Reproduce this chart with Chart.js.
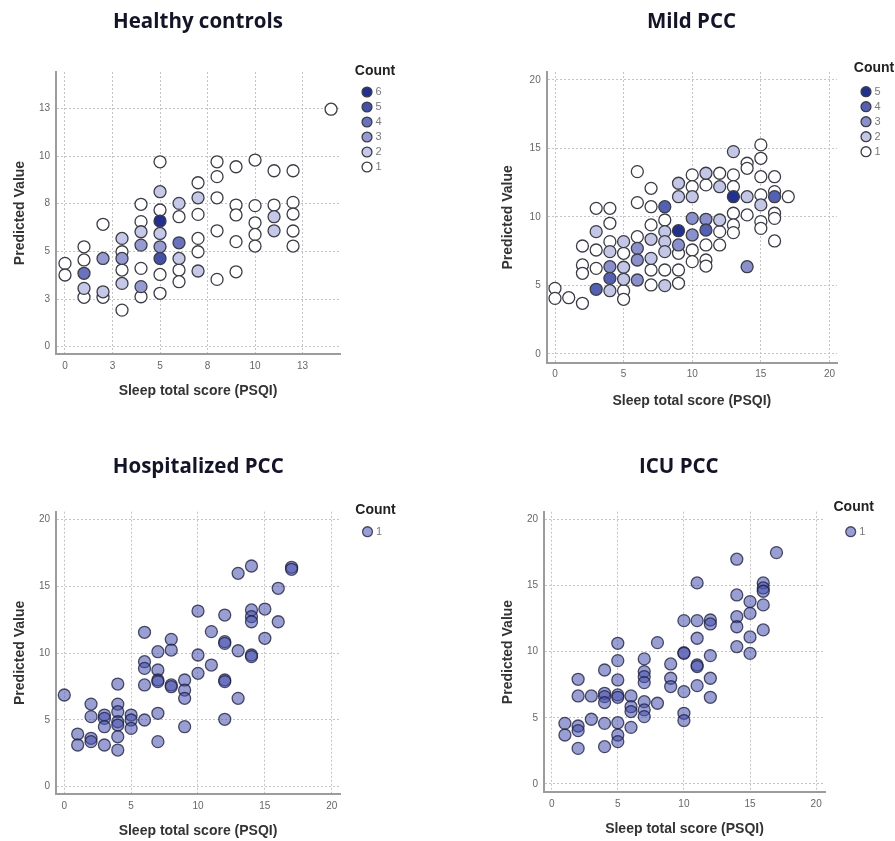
<!DOCTYPE html>
<html><head><meta charset="utf-8">
<script src="https://cdn.jsdelivr.net/npm/chart.js@4.4.1/dist/chart.umd.min.js"></script>
<style>
html,body{margin:0;padding:0;background:#fff;width:895px;height:841px;overflow:hidden;}
canvas{position:absolute;}
</style></head><body>
<canvas id="c1" width="399" height="400" style="left:0px;top:0px"></canvas>
<canvas id="c2" width="435" height="410" style="left:460px;top:0px"></canvas>
<canvas id="c3" width="400" height="400" style="left:0px;top:440px"></canvas>
<canvas id="c4" width="435" height="398" style="left:460px;top:440px"></canvas>
<script>
// ---------- DATA ----------
const panelTitles = ['Healthy controls', 'Mild PCC', 'Hospitalized PCC', 'ICU PCC'];
const xAxisTitle = 'Sleep total score (PSQI)';
const yAxisTitle = 'Predicted Value';
const legendTitle = 'Count';

const ticksHC = [0, 2.5, 5, 7.5, 10, 12.5];
const ticksPCC = [0, 5, 10, 15, 20];

// Healthy controls
const hcScore = [0,0, 1,1,1,1,1, 2,2,2,2, 3,3,3,3,3,3, 4,4,4,4,4,4,4, 5,5,5,5,5,5,5,5,5, 6,6,6,6,6,6, 7,7,7,7,7,7, 8,8,8,8,8, 9,9,9,9,9, 10,10,10,10,10, 11,11,11,11, 12,12,12,12,12, 14];
const hcPred = [4.37,3.76, 5.24,4.55,3.85,3.06,2.59, 6.42,4.63,2.88,2.59, 5.68,4.98,4.63,4.02,3.32,1.92, 7.47,6.56,6.03,5.33,4.11,3.15,2.62, 9.70,8.13,7.17,6.59,5.94,5.24,4.63,3.79,2.80, 7.52,6.82,5.45,4.63,4.02,3.41, 8.60,7.81,6.94,5.68,4.98,3.97, 9.70,8.92,7.81,6.08,3.53, 9.44,7.43,6.91,5.51,3.93, 9.79,7.40,6.50,5.89,5.28, 9.23,7.43,6.82,6.08, 9.23,7.57,6.96,6.07,5.28, 12.46];
const hcCount = [1,1, 1,1,4,2,1, 1,3,2,1, 2,1,3,1,2,1, 1,1,2,3,1,3,1, 1,2,1,6,2,3,5,1,1, 2,1,4,2,1,1, 1,2,1,1,1,2, 1,1,1,1,1, 1,1,1,1,1, 1,1,1,1,1, 1,1,2,2, 1,1,1,1,1, 1];
const hcLevels = [6, 5, 4, 3, 2, 1];

// Mild PCC
const mildScore = [0,0, 1, 2,2,2,2, 3,3,3,3,3, 4,4,4,4,4,4,4, 5,5,5,5,5,5, 6,6,6,6,6,6, 7,7,7,7,7,7,7, 8,8,8,8,8,8,8, 9,9,9,9,9,9,9, 10,10,10,10,10,10,10, 11,11,11,11,11,11,11, 12,12,12,12,12, 13,13,13,13,13,13,13, 14,14,14,14,14, 15,15,15,15,15,15,15, 16,16,16,16,16,16, 17];
const mildPred = [4.79,4.06, 4.11, 7.88,6.50,5.89,3.70, 10.63,8.93,7.59,6.25,4.72, 10.63,9.54,8.20,7.47,6.37,5.52,4.62, 8.20,7.35,6.33,5.45,4.62,3.99, 13.31,11.05,8.56,7.71,6.86,5.40, 12.09,10.75,9.42,8.37,6.98,6.13,5.04, 10.75,9.78,8.93,8.20,7.47,6.13,4.99, 12.46,11.48,9.00,7.96,7.35,6.13,5.16, 13.07,12.21,11.48,9.90,8.69,7.59,6.74, 13.19,12.34,9.83,9.05,7.96,6.86,6.42, 13.19,12.21,9.78,8.93,7.96, 14.77,13.07,12.21,11.48,10.27,9.42,8.86, 13.92,13.55,11.48,10.15,6.37, 15.26,14.28,12.94,11.61,10.88,9.66,9.17, 12.94,11.85,11.48,10.27,9.90,8.25, 11.48];
const mildCount = [1,1, 1, 1,1,1,1, 1,2,1,1,4, 1,1,1,2,3,4,2, 2,1,2,2,1,1, 1,1,1,3,3,3, 1,1,1,2,2,1,1, 4,1,2,2,2,1,2, 2,2,5,3,1,1,1, 1,1,2,3,3,1,1, 2,1,3,4,1,1,1, 1,2,2,1,1, 2,1,1,5,1,1,1, 1,1,2,1,3, 1,1,1,1,2,1,1, 1,1,4,1,1,1, 1];
const mildLevels = [5, 4, 3, 2, 1];

// Hospitalized PCC
const hospScore = [0, 1,1, 2,2,2,2, 3,3,3,3, 4,4,4,4,4,4,4, 5,5,5, 6,6,6,6,6, 7,7,7,7,7,7, 8,8,8,8, 9,9,9,9, 10,10,10, 11,11, 12,12,12,12,12,12, 13,13,13, 14,14,14,14,14,14, 15,15, 16,16, 17,17];
const hospPred = [6.86, 3.94,3.12, 6.18,5.24,3.62,3.37, 5.36,5.11,4.49,3.12, 7.68,6.18,5.61,4.86,4.61,3.74,2.74, 5.36,4.99,4.36, 11.55,9.35,8.85,7.61,4.99, 10.10,8.73,7.98,7.86,5.49,3.37, 11.02,10.22,7.61,7.48, 7.98,7.23,6.61,4.49, 13.14,9.85,8.48, 11.60,9.10, 12.84,10.85,10.72,7.98,7.86,5.04, 15.96,10.17,6.61, 16.51,13.22,12.72,12.34,9.85,9.73, 13.29,11.10, 14.84,12.34, 16.41,16.26];

// ICU PCC
const icuScore = [1,1, 2,2,2,2,2, 3,3, 4,4,4,4,4,4, 5,5,5,5,5,5,5,5, 6,6,6,6, 7,7,7,7,7,7,7, 8,8, 9,9,9, 10,10,10,10,10,10, 11,11,11,11,11,11, 12,12,12,12,12, 14,14,14,14,14, 15,15,15,15, 16,16,16,16,16, 17];
const icuPred = [4.58,3.70, 7.91,6.65,4.38,4.03,2.69, 6.65,4.89, 8.61,6.85,6.60,6.15,4.58,2.82, 10.63,9.32,7.86,6.73,6.55,4.63,3.70,3.20, 6.65,5.84,5.47,4.28, 9.45,8.49,8.11,7.66,6.22,5.60,5.09, 10.68,6.10, 9.07,7.99,7.36, 12.34,9.92,9.87,6.98,5.34,4.79, 15.19,12.34,11.01,8.99,8.87,7.43, 12.39,12.09,9.70,7.99,6.55, 16.98,14.28,12.64,11.88,10.37, 13.78,12.89,11.11,9.87, 15.19,14.81,14.56,13.53,11.64, 17.48];

// ---------- STYLE ----------
const hcColors = {6:'#22308e', 5:'#4451a8', 4:'#6b72bd', 3:'#959ad0', 2:'#c6c8e7', 1:'#ffffff'};
const mildColors = {5:'#22308e', 4:'#5460b2', 3:'#8a90cb', 2:'#c3c6e5', 1:'#ffffff'};
const singleFill = 'rgba(70,80,175,0.55)';
const singleBorder = 'rgba(25,25,55,0.75)';

Chart.defaults.font.family = '"Liberation Sans", Arial, sans-serif';

// let the legend title overflow its box (no clipping to the legend box)
const noClipLegend = {
  id: 'noClipLegend',
  beforeDraw(chart) {
    const lg = chart.legend;
    if (lg && !lg._noclip && typeof lg._draw === 'function') {
      lg._noclip = true;
      lg.draw = function() { if (this.options.display) { this._draw(); } };
    }
  }
};

function groupedSets(xs, ys, cs, levels, colors) {
  return levels.map(l => {
    const pts = [];
    xs.forEach((x, i) => { if (cs[i] === l) pts.push({x: x, y: ys[i]}); });
    return {
      label: String(l), data: pts, yAxisID: 'y', xAxisID: 'x',
      backgroundColor: colors[l], borderColor: '#3c3c46', borderWidth: 1.3,
      pointRadius: 6, pointHoverRadius: 6
    };
  });
}
function singleSet(xs, ys) {
  return [{
    label: '1', data: xs.map((x, i) => ({x: x, y: ys[i]})), yAxisID: 'y', xAxisID: 'x',
    backgroundColor: singleFill, borderColor: singleBorder, borderWidth: 1.3,
    pointRadius: 6, pointHoverRadius: 6
  }];
}

function makeChart(id, g) {
  const gridCommon = {color: '#c4c4c4', lineWidth: 1, drawTicks: false};
  const borderCommon = {display: true, color: '#9c9c9c', width: 2, dash: [2, 2]};
  const tickFont = {size: 10};
  const fmt = g.round ? (v => String(Math.round(v))) : (v => String(v));
  new Chart(document.getElementById(id), {
    type: 'scatter',
    data: {datasets: g.datasets},
    plugins: [noClipLegend],
    options: {
      responsive: false, animation: false, devicePixelRatio: 1, events: [],
      layout: {padding: {left: g.pl, right: g.pr, top: 0, bottom: 0}},
      plugins: {
        tooltip: {enabled: false},
        title: {
          display: true, text: g.title, color: '#141428',
          font: {family: '"Open Sans", sans-serif', size: 20.5, weight: 'bold'},
          padding: {top: g.tTop, bottom: g.tBot}
        },
        legend: {
          display: true, position: 'right', align: 'start', fullSize: false,
          maxWidth: g.legW,
          title: {display: true, text: legendTitle, color: '#222', position: 'center',
                  font: {size: 14, weight: 'bold'}, padding: {top: g.lgTop, bottom: g.lgBot}},
          labels: {usePointStyle: true, pointStyle: 'circle', boxWidth: 6, boxHeight: 7,
                   padding: 4, color: '#7a7a7a', font: {size: 11}}
        }
      },
      scales: {
        x: {
          type: 'linear', position: 'bottom', min: g.xMin, max: g.xMax, bounds: 'data',
          grid: gridCommon, border: borderCommon,
          ticks: {color: '#666', font: tickFont, padding: 6, callback: fmt, maxRotation: 0},
          afterBuildTicks: s => { s.ticks = g.ticks.map(v => ({value: v})); },
          afterFit: s => { s.height = g.xH; },
          title: {display: true, text: xAxisTitle, color: '#333', font: {size: 14, weight: 'bold'}, padding: {top: 0, bottom: 0}}
        },
        y: {
          type: 'linear', position: 'left', min: g.yMin, max: g.yMax, bounds: 'data',
          grid: gridCommon, border: borderCommon,
          ticks: {color: '#666', font: tickFont, padding: 6, callback: fmt},
          afterBuildTicks: s => { s.ticks = g.ticks.map(v => ({value: v})); },
          afterFit: s => { s.width = g.yW; },
          title: {display: true, text: yAxisTitle, color: '#333', font: {size: 14, weight: 'bold'}, padding: {top: 5.6, bottom: 0}}
        },
        pad: {
          type: 'linear', axis: 'y', position: 'right', display: true,
          grid: {display: false, drawOnChartArea: false}, border: {display: false},
          ticks: {display: false},
          afterFit: s => { s.width = g.D; }
        }
      }
    }
  });
}

makeChart('c1', {
  title: panelTitles[0], datasets: groupedSets(hcScore, hcPred, hcCount, hcLevels, hcColors),
  ticks: ticksHC, round: true, xMin: -0.473, xMax: 14.47, yMin: -0.383, yMax: 14.41,
  pl: 6, pr: 9, yW: 50, xH: 46, D: 20, legW: 30,
  tTop: 9.4, tBot: 38.0, lgTop: -8, lgBot: 1.7
});
makeChart('c2', {
  title: panelTitles[1], datasets: groupedSets(mildScore, mildPred, mildCount, mildLevels, mildColors),
  ticks: ticksPCC, round: false, xMin: -0.605, xMax: 20.55, yMin: -0.635, yMax: 20.58,
  pl: 34, pr: 6, yW: 52.7, xH: 47.3, D: 22, legW: 30,
  tTop: 9.7, tBot: 37.7, lgTop: -10.7, lgBot: 4.1
});
makeChart('c3', {
  title: panelTitles[2], datasets: singleSet(hospScore, hospPred),
  ticks: ticksPCC, round: false, xMin: -0.62, xMax: 20.62, yMin: -0.546, yMax: 20.57,
  pl: 6, pr: 9.5, yW: 50, xH: 46, D: 20.5, legW: 30,
  tTop: 14.7, tBot: 32.4, lgTop: -8.7, lgBot: 2.4
});
makeChart('c4', {
  title: panelTitles[3], datasets: singleSet(icuScore, icuPred),
  ticks: ticksPCC, round: false, xMin: -0.58, xMax: 20.67, yMin: -0.627, yMax: 20.57,
  pl: 34, pr: 31.3, yW: 50, xH: 45.7, D: 18.7, legW: 20,
  tTop: 14.7, tBot: 32.4, lgTop: -12, lgBot: 5.7
});
</script>
</body></html>
